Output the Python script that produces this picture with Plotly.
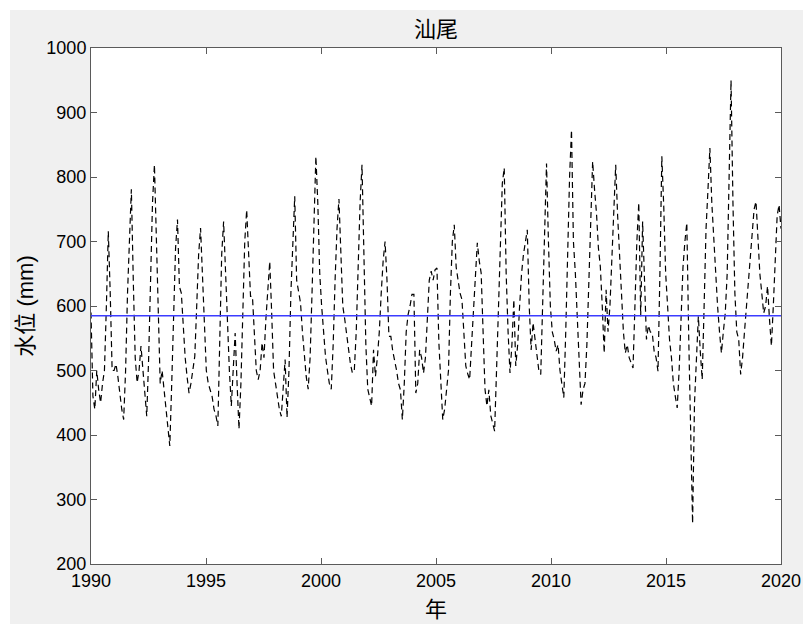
import numpy as np
import plotly.graph_objects as go

# Monthly water level (mm), 汕尾
level_1990s = [
    590, 460, 440, 500, 470, 450, 480, 500, 600, 716, 620, 500,
    500, 510, 490, 460, 440, 424, 500, 620, 720, 781, 640, 520,
    481, 500, 538, 500, 460, 429, 520, 640, 760, 819, 700, 560,
    480, 500, 470, 440, 420, 383, 480, 600, 690, 734, 630, 620,
    560, 520, 490, 465, 480, 500, 522, 600, 680, 721, 650, 560,
    500, 480, 470, 460, 440, 430, 414, 560, 680, 731, 651, 560,
    500, 445, 500, 558, 480, 409, 480, 600, 700, 749, 680, 615,
    615, 560, 500, 486, 500, 543, 520, 580, 630, 669, 590, 500,
    480, 460, 440, 429, 470, 517, 427, 500, 620, 700, 770, 640,
    620, 605, 560, 520, 490, 471, 520, 620, 740, 832, 760, 651,
]
level_2000s = [
    600, 560, 522, 500, 480, 471, 540, 640, 720, 766, 667, 600,
    580, 558, 530, 510, 496, 500, 560, 660, 760, 819, 680, 540,
    471, 460, 445, 532, 491, 520, 560, 620, 670, 700, 640, 553,
    553, 530, 517, 500, 480, 470, 424, 480, 560, 587, 600, 618,
    618, 465, 480, 532, 520, 496, 520, 580, 640, 654, 640, 656,
    659, 543, 480, 424, 440, 471, 500, 620, 700, 726, 660, 640,
    620, 610, 560, 507, 495, 486, 540, 600, 660, 698, 670, 651,
    560, 471, 445, 470, 430, 420, 406, 500, 600, 700, 790, 814,
    651, 560, 496, 540, 610, 507, 540, 600, 650, 680, 700, 718,
    600, 532, 574, 548, 520, 500, 494, 600, 720, 821, 700, 600,
]
level_2010s = [
    560, 548, 530, 540, 500, 480, 458, 560, 700, 800, 873, 700,
    651, 584, 500, 447, 470, 480, 540, 640, 740, 824, 780, 744,
    690, 661, 600, 527, 625, 560, 600, 680, 760, 819, 740, 677,
    620, 560, 527, 540, 520, 510, 504, 600, 700, 760, 584, 731,
    640, 548, 570, 560, 558, 530, 520, 499, 650, 832, 754, 650,
    600, 548, 520, 480, 460, 442, 500, 580, 660, 700, 729, 550,
    420, 263, 450, 520, 584, 530, 486, 600, 720, 780, 845, 760,
    700, 640, 600, 560, 527, 560, 589, 650, 800, 950, 760, 620,
    560, 548, 494, 520, 560, 600, 640, 680, 720, 750, 762, 698,
    650, 620, 589, 600, 631, 580, 538, 600, 680, 740, 757, 720,
]
mean_level = 585
start_year, end_year = 1990, 2020
x_ticks = [1990, 1995, 2000, 2005, 2010, 2015, 2020]
y_ticks = [200, 300, 400, 500, 600, 700, 800, 900, 1000]

levels = level_1990s + level_2000s + level_2010s
years = np.linspace(start_year, end_year, len(levels))

fig = go.Figure()
fig.add_trace(go.Scatter(
    x=years, y=levels, mode="lines",
    line=dict(color="black", width=1.2, dash="6px,4px"),
    showlegend=False, hoverinfo="skip",
))
fig.add_trace(go.Scatter(
    x=[start_year, end_year], y=[mean_level, mean_level], mode="lines",
    line=dict(color="#3c3cff", width=1.4),
    showlegend=False, hoverinfo="skip",
))

font_family = "Liberation Sans, Arial, Noto Sans CJK SC, sans-serif"
cjk_family = "Noto Sans CJK SC, Liberation Sans, sans-serif"
axis_common = dict(
    showline=True, linecolor="#5a5a5a", linewidth=1, mirror="ticks",
    ticks="inside", ticklen=6, tickcolor="#5a5a5a", showgrid=False,
    zeroline=False, tickfont=dict(size=18, color="black", family=font_family),
)

fig.update_layout(
    width=803, height=624,
    paper_bgcolor="white", plot_bgcolor="white",
    margin=dict(l=91, r=22, t=48, b=60),
    font=dict(family=font_family, color="black"),
    title=dict(text="汕尾", x=0.5 * (91 + 781) / 803, xanchor="center",
               y=1 - 29 / 624, yanchor="middle", yref="container",
               font=dict(size=22, color="black", family=cjk_family)),
    xaxis=dict(range=[start_year, end_year], tickvals=x_ticks,
               ticktext=[str(t) for t in x_ticks],
               title=dict(text="年", standoff=6,
                          font=dict(size=22, color="black", family=cjk_family)),
               automargin=False, **axis_common),
    yaxis=dict(range=[200, 1000], tickvals=y_ticks,
               ticktext=[str(t) for t in y_ticks],
               title=dict(text="水位 (mm)", standoff=6,
                          font=dict(size=22, color="black", family=font_family)),
               automargin=False, **axis_common),
    shapes=[
        dict(type="rect", xref="paper", yref="paper",
             x0=(10 - 91) / 690, x1=(803 - 91) / 690,
             y0=-60 / 516, y1=(516 + 48 - 10) / 516,
             fillcolor="#f0f0f0", line=dict(width=0), layer="below"),
        dict(type="rect", xref="x domain", yref="y domain",
             x0=0, x1=1, y0=0, y1=1,
             fillcolor="white", line=dict(width=0), layer="below"),
    ],
)

fig.write_html("out.html")
